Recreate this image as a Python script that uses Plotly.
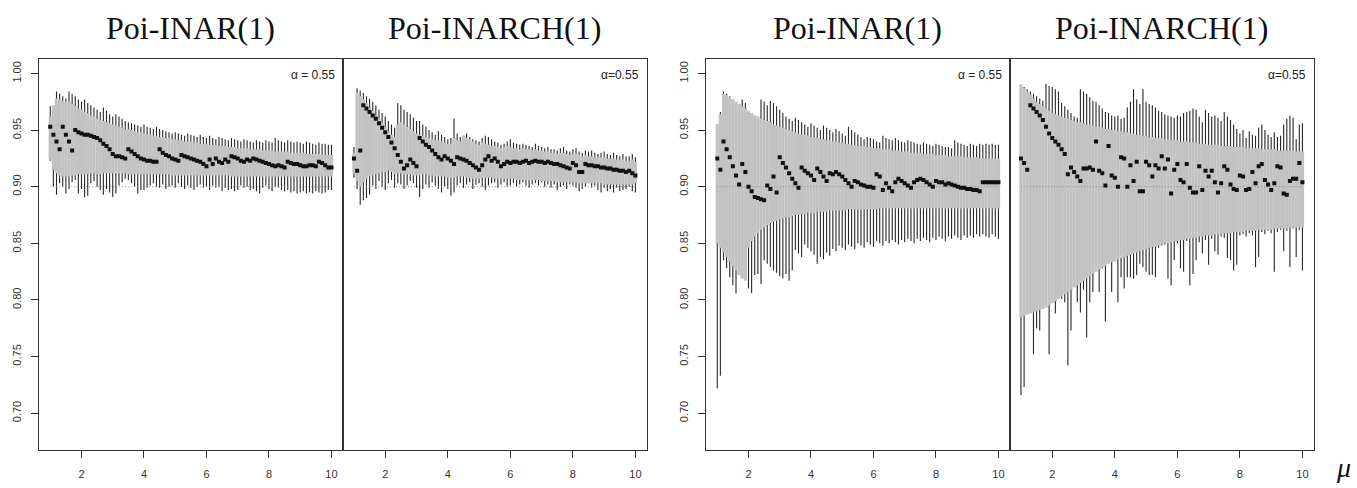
import plotly.graph_objects as go

# ---------------- data ----------------
MU = [1.0, 1.1, 1.2, 1.3, 1.4, 1.5, 1.6, 1.7, 1.8, 1.9,
      2.0, 2.1, 2.2, 2.3, 2.4, 2.5, 2.6, 2.7, 2.8, 2.9,
      3.0, 3.1, 3.2, 3.3, 3.4, 3.5, 3.6, 3.7, 3.8, 3.9,
      4.0, 4.1, 4.2, 4.3, 4.4, 4.5, 4.6, 4.7, 4.8, 4.9,
      5.0, 5.1, 5.2, 5.3, 5.4, 5.5, 5.6, 5.7, 5.8, 5.9,
      6.0, 6.1, 6.2, 6.3, 6.4, 6.5, 6.6, 6.7, 6.8, 6.9,
      7.0, 7.1, 7.2, 7.3, 7.4, 7.5, 7.6, 7.7, 7.8, 7.9,
      8.0, 8.1, 8.2, 8.3, 8.4, 8.5, 8.6, 8.7, 8.8, 8.9,
      9.0, 9.1, 9.2, 9.3, 9.4, 9.5, 9.6, 9.7, 9.8, 9.9,
      10.0]

TITLES = ["Poi-INAR(1)", "Poi-INARCH(1)", "Poi-INAR(1)", "Poi-INARCH(1)"]
ALPHA_LABELS = ["\u03b1 = 0.55", "\u03b1=0.55", "\u03b1 = 0.55", "\u03b1=0.55"]
X_TICKS = [2, 4, 6, 8, 10]
Y_TICKS = [0.70, 0.75, 0.80, 0.85, 0.90, 0.95, 1.00]
Y_TICK_TEXT = ["0.70", "0.75", "0.80", "0.85", "0.90", "0.95", "1.00"]
NOMINAL = 0.90

# Panel A: left group, Poi-INAR(1)
A_PT = [.953, .946, .940, .933, .953, .946, .940, .932, .950, .948,
        .947, .946, .946, .945, .944, .943, .941, .938, .936, .933,
        .929, .927, .927, .926, .925, .933, .931, .929, .927, .925,
        .924, .923, .923, .922, .922, .933, .930, .928, .927, .925,
        .924, .923, .928, .927, .926, .925, .924, .923, .922, .920,
        .918, .924, .920, .925, .922, .921, .924, .922, .927, .926,
        .925, .923, .922, .924, .923, .925, .924, .923, .922, .921,
        .920, .919, .918, .919, .918, .917, .922, .921, .920, .920,
        .919, .918, .918, .919, .919, .918, .922, .921, .919, .917,
        .917]
A_HI = [.971, .962, .984, .982, .980, .978, .984, .982, .980, .977,
        .975, .977, .974, .972, .970, .968, .966, .970, .967, .964,
        .962, .964, .962, .960, .958, .957, .956, .955, .954, .953,
        .955, .953, .952, .951, .953, .951, .950, .949, .948, .947,
        .948, .947, .946, .945, .947, .946, .945, .944, .946, .944,
        .943, .945, .943, .942, .944, .943, .942, .941, .943, .942,
        .941, .940, .942, .941, .940, .939, .941, .940, .939, .941,
        .940, .939, .943, .941, .940, .939, .941, .940, .939, .940,
        .939, .938, .940, .939, .938, .937, .939, .938, .938, .937,
        .937]
A_LO = [.923, .900, .893, .903, .900, .894, .898, .904, .906, .894,
        .898, .891, .892, .903, .905, .900, .897, .893, .898, .895,
        .891, .894, .901, .904, .907, .906, .903, .900, .894, .897,
        .897, .899, .901, .903, .900, .899, .902, .898, .900, .901,
        .899, .903, .900, .898, .901, .899, .897, .900, .902, .899,
        .900, .897, .901, .899, .900, .896, .899, .897, .898, .896,
        .897, .901, .899, .900, .897, .898, .896, .894, .899, .901,
        .898, .896, .900, .899, .897, .896, .897, .895, .896, .894,
        .895, .896, .894, .895, .894, .896, .895, .894, .895, .897,
        .897]
A_BHI = [.962, .972, .978, .977, .976, .975, .975, .973, .971, .969,
         .968, .966, .965, .963, .962, .960, .959, .958, .957, .956,
         .955, .954, .953, .952, .951, .951, .950, .949, .948, .948,
         .947, .946, .946, .945, .945, .944, .944, .943, .943, .942,
         .942, .941, .941, .940, .940, .940, .939, .939, .938, .938,
         .938, .937, .937, .937, .936, .936, .936, .935, .935, .935,
         .934, .934, .934, .934, .933, .933, .933, .933, .932, .932,
         .932, .932, .931, .931, .931, .931, .931, .930, .930, .930,
         .930, .930, .929, .929, .929, .929, .929, .928, .928, .928,
         .928]
A_BLO = [.924, .915, .912, .910, .909, .909, .909, .910, .910, .911,
         .911, .911, .911, .912, .912, .911, .911, .912, .912, .912,
         .912, .912, .912, .912, .912, .911, .911, .911, .911, .911,
         .911, .911, .911, .911, .911, .911, .911, .911, .911, .910,
         .910, .910, .910, .910, .910, .910, .910, .910, .910, .910,
         .910, .910, .910, .910, .910, .910, .910, .910, .909, .909,
         .909, .909, .909, .909, .909, .909, .909, .909, .909, .909,
         .909, .909, .909, .909, .909, .909, .909, .909, .909, .909,
         .909, .909, .909, .909, .909, .909, .909, .909, .909, .909,
         .909]

# Panel B: left group, Poi-INARCH(1)
B_PT = [.925, .914, .932, .972, .969, .966, .963, .960, .956, .952,
        .948, .944, .939, .934, .928, .922, .916, .919, .924, .921,
        .918, .943, .940, .937, .935, .932, .929, .926, .924, .927,
        .925, .923, .920, .926, .925, .924, .923, .921, .919, .917,
        .915, .919, .924, .927, .923, .925, .922, .918, .920, .922,
        .921, .922, .922, .921, .922, .923, .921, .922, .923, .922,
        .922, .921, .922, .921, .920, .920, .919, .918, .917, .916,
        .921, .919, .913, .913, .920, .919, .919, .918, .918, .917,
        .917, .916, .916, .915, .915, .914, .914, .913, .914, .912,
        .910]
B_HI = [.935, .987, .985, .983, .980, .978, .975, .972, .968, .965,
        .962, .958, .955, .952, .974, .972, .968, .966, .964, .961,
        .958, .958, .955, .953, .950, .948, .946, .949, .946, .944,
        .942, .943, .960, .947, .944, .945, .947, .944, .942, .941,
        .940, .943, .945, .944, .942, .940, .939, .937, .938, .940,
        .942, .939, .938, .937, .938, .937, .936, .935, .938, .936,
        .935, .934, .935, .933, .933, .932, .934, .935, .932, .931,
        .933, .934, .931, .930, .932, .931, .932, .930, .929, .930,
        .931, .929, .928, .930, .928, .927, .929, .927, .927, .929,
        .926]
B_LO = [.908, .898, .884, .888, .890, .893, .901, .898, .905, .900,
        .897, .903, .906, .899, .903, .902, .898, .901, .905, .903,
        .899, .891, .898, .902, .899, .904, .901, .898, .895, .900,
        .898, .892, .895, .901, .903, .899, .902, .904, .898, .902,
        .903, .900, .897, .901, .903, .904, .899, .902, .904, .900,
        .901, .903, .900, .902, .904, .901, .899, .902, .903, .901,
        .904, .900, .902, .899, .902, .897, .900, .901, .898, .902,
        .901, .899, .896, .898, .900, .903, .899, .901, .897, .895,
        .899, .896, .898, .895, .899, .896, .897, .898, .900, .896,
        .895]
B_BHI = [.930, .983, .980, .977, .974, .970, .967, .963, .960, .956,
         .953, .949, .946, .944, .955, .957, .955, .953, .951, .949,
         .947, .946, .945, .944, .943, .942, .941, .941, .940, .939,
         .938, .938, .943, .941, .940, .945, .943, .942, .940, .938,
         .937, .939, .938, .937, .936, .936, .935, .934, .935, .936,
         .935, .934, .934, .933, .934, .933, .933, .932, .933, .932,
         .932, .931, .931, .930, .930, .929, .930, .930, .929, .928,
         .929, .929, .928, .927, .928, .927, .927, .926, .926, .926,
         .926, .925, .925, .925, .924, .924, .924, .923, .923, .924,
         .922]
B_BLO = [.912, .905, .900, .904, .907, .909, .910, .911, .912, .913,
         .913, .914, .913, .911, .912, .912, .911, .911, .911, .910,
         .910, .910, .911, .911, .910, .910, .909, .909, .909, .909,
         .908, .908, .908, .909, .909, .909, .908, .908, .907, .907,
         .907, .908, .908, .908, .908, .907, .907, .907, .907, .907,
         .907, .907, .906, .906, .906, .906, .906, .906, .906, .906,
         .905, .905, .905, .905, .905, .904, .904, .904, .904, .904,
         .904, .904, .903, .903, .903, .903, .903, .903, .903, .903,
         .902, .902, .902, .902, .902, .902, .902, .902, .902, .902,
         .903]

# Panel C: right group, Poi-INAR(1)
C_PT = [.925, .915, .940, .933, .926, .918, .910, .902, .920, .913,
        .900, .896, .891, .890, .889, .888, .901, .898, .909, .895,
        .926, .921, .917, .912, .907, .903, .899, .917, .914, .912,
        .910, .906, .916, .913, .909, .905, .912, .911, .913, .911,
        .909, .906, .903, .900, .905, .904, .902, .901, .900, .900,
        .899, .911, .909, .897, .903, .899, .896, .904, .907, .905,
        .903, .901, .899, .904, .906, .907, .906, .904, .902, .900,
        .905, .904, .904, .902, .903, .902, .901, .900, .899, .899,
        .898, .898, .897, .897, .896, .904, .904, .904, .904, .904,
        .904]
C_HI = [.955, .966, .984, .982, .980, .977, .974, .971, .977, .974,
        .966, .963, .960, .957, .977, .975, .972, .976, .974, .971,
        .968, .965, .962, .960, .958, .961, .959, .957, .955, .953,
        .956, .954, .952, .950, .954, .952, .950, .948, .951, .949,
        .947, .945, .953, .950, .948, .946, .944, .942, .944, .943,
        .942, .940, .939, .945, .943, .942, .941, .943, .941, .940,
        .939, .941, .940, .939, .938, .937, .939, .938, .937, .936,
        .938, .937, .936, .935, .935, .934, .941, .939, .938, .937,
        .936, .938, .937, .936, .938, .937, .938, .937, .938, .937,
        .937]
C_LO = [.722, .733, .835, .828, .820, .813, .806, .830, .825, .818,
        .810, .806, .822, .823, .814, .835, .832, .829, .826, .824,
        .821, .819, .823, .817, .826, .844, .841, .838, .849, .846,
        .843, .840, .832, .838, .836, .842, .839, .845, .843, .848,
        .846, .844, .849, .847, .845, .850, .848, .846, .851, .849,
        .847, .852, .850, .848, .852, .850, .853, .851, .849, .853,
        .851, .854, .852, .850, .854, .852, .855, .853, .851, .855,
        .853, .856, .854, .852, .856, .854, .857, .855, .853, .857,
        .855, .857, .855, .858, .856, .858, .856, .855, .858, .856,
        .854]
C_BHI = [.955, .964, .982, .981, .979, .977, .975, .973, .971, .969,
         .967, .965, .963, .962, .960, .959, .958, .957, .955, .954,
         .953, .952, .951, .950, .949, .948, .947, .946, .946, .945,
         .944, .944, .943, .942, .942, .941, .941, .940, .940, .939,
         .939, .938, .938, .937, .937, .936, .936, .936, .935, .935,
         .934, .934, .934, .933, .933, .933, .932, .932, .932, .931,
         .931, .931, .930, .930, .930, .930, .929, .929, .929, .929,
         .928, .928, .928, .928, .927, .927, .927, .927, .927, .926,
         .926, .926, .926, .926, .925, .925, .925, .925, .925, .925,
         .925]
C_BLO = [.850, .846, .842, .838, .834, .830, .826, .822, .819, .817,
         .846, .852, .856, .859, .862, .864, .866, .868, .869, .870,
         .871, .872, .873, .873, .874, .875, .875, .876, .876, .877,
         .877, .877, .878, .878, .878, .878, .879, .879, .879, .879,
         .879, .879, .880, .880, .880, .880, .880, .880, .880, .880,
         .880, .880, .881, .881, .881, .881, .881, .881, .881, .881,
         .881, .881, .881, .881, .881, .881, .881, .881, .881, .881,
         .881, .881, .881, .881, .881, .881, .881, .881, .881, .881,
         .881, .881, .881, .881, .881, .881, .881, .881, .881, .881,
         .881]

# Panel D: right group, Poi-INARCH(1)
D_PT = [.925, .921, .915, .972, .969, .966, .963, .959, .953, .947,
        .943, .940, .937, .933, .929, .911, .917, .913, .909, .905,
        .916, .916, .917, .915, .940, .914, .912, .901, .936, .910,
        .908, .900, .926, .925, .900, .919, .905, .922, .896, .896,
        .922, .919, .909, .919, .916, .927, .916, .924, .894, .915,
        .920, .906, .904, .920, .899, .895, .895, .918, .897, .914,
        .909, .914, .904, .895, .903, .918, .915, .902, .898, .897,
        .910, .909, .897, .898, .913, .903, .918, .920, .906, .902,
        .897, .903, .918, .917, .894, .893, .905, .907, .907, .921,
        .904]
D_HI = [.990, .988, .986, .984, .982, .980, .978, .976, .991, .989,
        .988, .986, .984, .974, .971, .968, .965, .962, .961, .986,
        .984, .982, .979, .976, .975, .972, .969, .966, .965, .963,
        .962, .963, .960, .961, .970, .975, .986, .977, .973, .986,
        .975, .973, .972, .970, .967, .966, .964, .963, .962, .961,
        .963, .962, .965, .966, .967, .969, .968, .962, .957, .968,
        .965, .962, .963, .961, .958, .966, .962, .959, .955, .951,
        .947, .950, .943, .949, .946, .945, .952, .955, .950, .946,
        .944, .948, .944, .945, .955, .960, .963, .961, .942, .955,
        .956]
D_LO = [.716, .723, .815, .791, .752, .775, .773, .812, .809, .752,
        .806, .788, .801, .801, .798, .742, .773, .831, .798, .789,
        .809, .767, .798, .807, .832, .807, .828, .781, .844, .807,
        .838, .798, .820, .810, .820, .820, .819, .822, .832, .829,
        .825, .822, .822, .820, .846, .848, .849, .819, .813, .835,
        .850, .828, .825, .852, .813, .823, .835, .851, .841, .853,
        .831, .854, .843, .840, .856, .855, .837, .835, .826, .831,
        .857, .858, .856, .859, .857, .829, .838, .860, .858, .861,
        .859, .825, .860, .862, .843, .861, .829, .863, .838, .862,
        .826]
D_BHI = [.990, .987, .984, .981, .978, .975, .973, .971, .969, .967,
         .965, .964, .963, .962, .961, .960, .959, .958, .957, .957,
         .956, .955, .955, .954, .953, .953, .952, .951, .951, .950,
         .950, .949, .949, .948, .948, .947, .947, .946, .946, .945,
         .945, .944, .944, .943, .943, .943, .942, .942, .941, .941,
         .941, .940, .940, .940, .939, .939, .939, .938, .938, .938,
         .937, .937, .937, .937, .936, .936, .936, .936, .935, .935,
         .935, .935, .934, .934, .934, .934, .934, .933, .933, .933,
         .933, .933, .932, .932, .932, .932, .932, .932, .931, .931,
         .931]
D_BLO = [.785, .786, .787, .788, .789, .790, .791, .792, .793, .795,
         .797, .799, .801, .803, .805, .807, .809, .811, .813, .815,
         .817, .819, .821, .823, .825, .827, .829, .830, .832, .833,
         .834, .836, .837, .838, .839, .840, .841, .842, .843, .844,
         .845, .846, .847, .847, .848, .849, .850, .850, .851, .852,
         .852, .853, .853, .854, .854, .855, .855, .856, .856, .857,
         .857, .857, .858, .858, .858, .859, .859, .859, .860, .860,
         .860, .860, .861, .861, .861, .861, .862, .862, .862, .862,
         .862, .863, .863, .863, .863, .863, .864, .864, .864, .864,
         .864]

PANELS = [
    (A_PT, A_LO, A_HI, A_BLO, A_BHI),
    (B_PT, B_LO, B_HI, B_BLO, B_BHI),
    (C_PT, C_LO, C_HI, C_BLO, C_BHI),
    (D_PT, D_LO, D_HI, D_BLO, D_BHI),
]
for arrs in PANELS:
    for a in arrs:
        assert len(a) == len(MU), len(a)

# ---------------- layout geometry (pixels) ----------------
W, H = 1357, 488
PX = [(39.0, 342.7), (342.7, 646.7), (706.0, 1009.7), (1009.7, 1313.7)]
PY_TOP, PY_BOT = 59.0, 450.3
XR = [0.64, 10.36]
YR = [0.6672, 1.0128]

BAND_COLOR = "#c2c2c2"
LINE_COLOR = "#262626"
AXIS_COLOR = "#333333"
TEXT_FONT = "Liberation Sans, Arial, sans-serif"
SERIF = "Liberation Serif, Times New Roman, serif"


def segs(xs, lo, hi):
    sx, sy = [], []
    for x, a, b in zip(xs, lo, hi):
        sx += [x, x, None]
        sy += [a, b, None]
    return sx, sy


fig = go.Figure()
for k, (pt, lo, hi, blo, bhi) in enumerate(PANELS):
    sfx = "" if k == 0 else str(k + 1)
    xa, ya = "x" + sfx, "y" + sfx
    sx, sy = segs(MU, lo, hi)
    fig.add_trace(go.Scatter(x=sx, y=sy, mode="lines", xaxis=xa, yaxis=ya,
                             line=dict(color=LINE_COLOR, width=1.1),
                             hoverinfo="skip", showlegend=False))
    bx, by = segs(MU, blo, bhi)
    fig.add_trace(go.Scatter(x=bx, y=by, mode="lines", xaxis=xa, yaxis=ya,
                             line=dict(color=BAND_COLOR, width=3.3),
                             hoverinfo="skip", showlegend=False))
    fig.add_trace(go.Scatter(x=[MU[0], MU[-1]], y=[NOMINAL, NOMINAL], mode="lines",
                             xaxis=xa, yaxis=ya,
                             line=dict(color="#8a8a8a", width=1, dash="1px,2px"),
                             hoverinfo="skip", showlegend=False))
    fig.add_trace(go.Scatter(x=MU, y=pt, mode="markers", xaxis=xa, yaxis=ya,
                             marker=dict(symbol="square", size=4, color="#111111",
                                         line=dict(width=0)),
                             showlegend=False))

    x0, x1 = PX[k]
    first = (k % 2 == 0)
    fig.update_layout({
        "xaxis" + sfx: dict(
            domain=[x0 / W, x1 / W], range=XR, anchor=ya,
            tickmode="array", tickvals=X_TICKS, ticktext=[str(t) for t in X_TICKS],
            ticks="outside", ticklen=7, tickwidth=1, tickcolor=AXIS_COLOR,
            showline=True, mirror=True, linecolor=AXIS_COLOR, linewidth=1,
            showgrid=False, zeroline=False,
            tickfont=dict(family=TEXT_FONT, size=11, color="#333333"),
            ticklabelstandoff=6,
        ),
        "yaxis" + sfx: dict(
            domain=[1 - PY_BOT / H, 1 - PY_TOP / H], range=YR, anchor=xa,
            tickmode="array", tickvals=Y_TICKS, ticktext=Y_TICK_TEXT,
            ticks="outside" if first else "", ticklen=7, tickwidth=1,
            tickcolor=AXIS_COLOR, showticklabels=first, tickangle=-90,
            showline=True, mirror=True, linecolor=AXIS_COLOR, linewidth=1,
            showgrid=False, zeroline=False,
            tickfont=dict(family=TEXT_FONT, size=11, color="#333333"),
            ticklabelstandoff=6,
        ),
    })

annotations = []
for k in range(4):
    x0, x1 = PX[k]
    annotations.append(dict(
        x=(x0 + x1) / 2 / W, y=1 - 28 / H, xref="paper", yref="paper",
        text=TITLES[k], showarrow=False, xanchor="center", yanchor="middle",
        font=dict(family=SERIF, size=32, color="#111111")))
    annotations.append(dict(
        x=(x1 - 5.7) / W, y=1 - 75 / H, xref="paper", yref="paper",
        text=ALPHA_LABELS[k], showarrow=False, xanchor="right", yanchor="middle",
        font=dict(family=TEXT_FONT, size=12, color="#222222")))
annotations.append(dict(
    x=1343 / W, y=1 - 467 / H, xref="paper", yref="paper",
    text="<i>\u03bc</i>", showarrow=False, xanchor="center", yanchor="middle",
    font=dict(family=SERIF, size=28, color="#111111")))

fig.update_layout(
    width=W, height=H, margin=dict(l=0, r=0, t=0, b=0, autoexpand=False),
    paper_bgcolor="white", plot_bgcolor="white",
    annotations=annotations, showlegend=False,
)

fig.write_html("out.html",
               config={"displayModeBar": False},
               post_script="document.body.style.margin='0';"
                           "document.body.style.overflow='hidden';")
